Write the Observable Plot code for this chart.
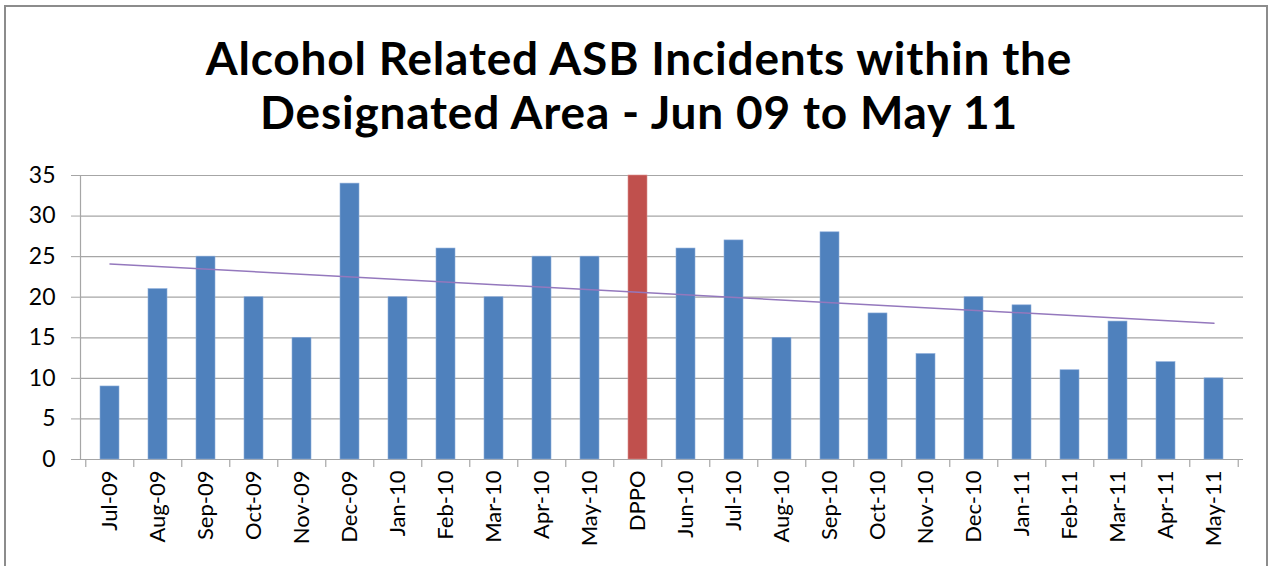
<!DOCTYPE html>
<html><head><meta charset="utf-8">
<script src="https://cdn.jsdelivr.net/npm/d3@7"></script>
<script src="https://cdn.jsdelivr.net/npm/@observablehq/plot@0.6"></script>
<style>
body{margin:0;background:#fff;}
#wrap{position:relative;width:1273px;height:566px;overflow:hidden;font-family:Lato,"Open Sans",sans-serif;background:#fff;}
#frame{position:absolute;left:4px;top:5px;width:1264px;height:600px;border:2px solid #8c8c8c;box-sizing:border-box;}
#title{position:absolute;left:4px;top:31px;width:1270px;text-align:center;font:bold 46px/54px Lato,sans-serif;letter-spacing:0.8px;color:#000;}
#chart{position:absolute;left:0;top:150px;}
</style></head>
<body>
<div id="wrap">
<div id="frame"></div>
<div id="title">Alcohol Related ASB Incidents within the<br>Designated Area - Jun 09 to May 11</div>
<div id="chart"></div>
</div>
<script>
const months = ["Jul-09","Aug-09","Sep-09","Oct-09","Nov-09","Dec-09","Jan-10","Feb-10","Mar-10","Apr-10","May-10","DPPO","Jun-10","Jul-10","Aug-10","Sep-10","Oct-10","Nov-10","Dec-10","Jan-11","Feb-11","Mar-11","Apr-11","May-11"];
const incidents = [9,21,25,20,15,34,20,26,20,25,25,35,26,27,15,28,18,13,20,19,11,17,12,10];
const highlighted = "DPPO";
const yTicks = [0,5,10,15,20,25,30,35];
const trendMonths = ["Jul-09","May-11"];
const trendValues = [24.1,16.8];

const data = months.map((m,i)=>({month:m, value:incidents[i]}));
const trend = trendMonths.map((m,i)=>({month:m, value:trendValues[i]}));

const W = 1273, H = 416, mL = 80, mR = 30, mT = 25, mB = 107;
const step = (W - mL - mR) / months.length;
const grid = "#a6a6a6";

const plot = Plot.plot({
  width: W, height: H,
  marginLeft: mL, marginRight: mR, marginTop: mT, marginBottom: mB,
  style: {fontFamily: "Lato, 'Open Sans', sans-serif", fontSize: "22px", color: "#000", background: "transparent"},
  x: {domain: months, paddingInner: 0.6, paddingOuter: 0.3, label: null},
  y: {domain: [0, 35], label: null},
  marks: [
    Plot.ruleY(yTicks, {stroke: grid, strokeWidth: 1.2}),
    Plot.frame({anchor: "left", stroke: grid, strokeWidth: 1.2}),
    Plot.ruleX(months, {x: d => d, dx: -step/2, insetTop: H - mT - mB, insetBottom: -8, stroke: grid, strokeWidth: 1.2}),
    Plot.ruleX([months[months.length-1]], {x: d => d, dx: step/2, insetTop: H - mT - mB, insetBottom: -8, stroke: grid, strokeWidth: 1.2}),
    Plot.barY(data, {x: "month", y: "value", fill: d => d.month === highlighted ? "#c0504d" : "#4f81bd", stroke: d => d.month === highlighted ? "#d9908e" : "#8eaedb", strokeWidth: 0.6}),
    Plot.line(trend, {x: "month", y: "value", stroke: "#9478bd", strokeWidth: 1.5}),
    Plot.axisY({ticks: yTicks, tickSize: 9, tickPadding: 16, stroke: grid, fill: "#000", fontSize: 23, label: null}),
    Plot.axisX({tickSize: 0, tickPadding: 11, tickRotate: -90, fill: "#000", fontSize: 22, label: null})
  ]
});
document.getElementById("chart").appendChild(plot);
</script>
</body></html>
